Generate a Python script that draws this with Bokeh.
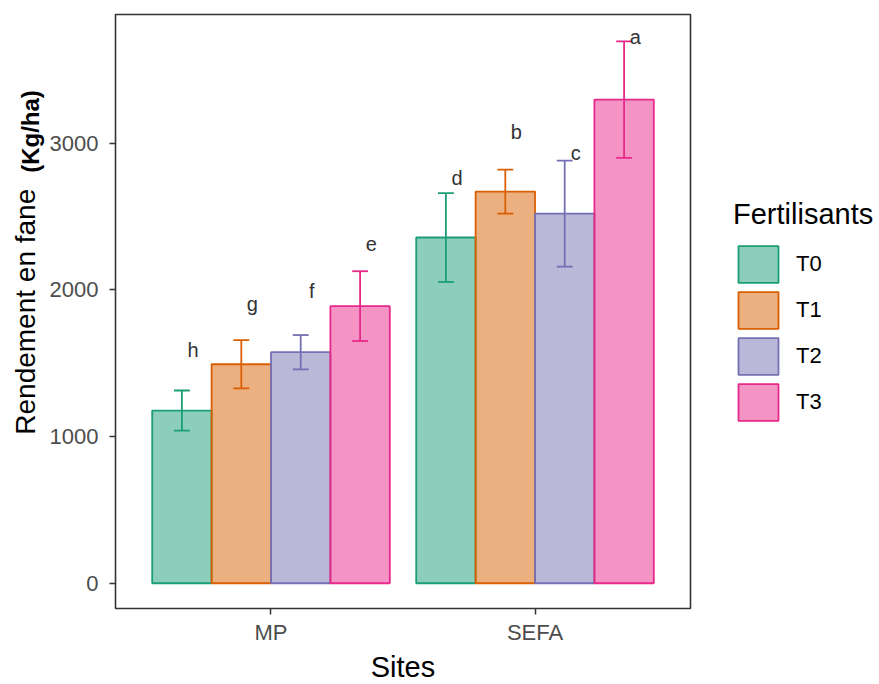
import math
from bokeh.plotting import figure
from bokeh.layouts import row
from bokeh.models import (ColumnDataSource, FactorRange, Range1d, Legend, LegendItem,
                          FixedTicker)
from bokeh.transform import dodge
from bokeh.core.properties import value
from bokeh.embed import file_html
from bokeh.resources import INLINE

# ---------------- data ----------------
sites = ["MP", "SEFA"]
treatments = ["T0", "T1", "T2", "T3"]

mean_T0 = [1177, 2357]
mean_T1 = [1493, 2670]
mean_T2 = [1575, 2520]
mean_T3 = [1889, 3297]

se_T0 = [137, 303]
se_T1 = [165, 150]
se_T2 = [117, 361]
se_T3 = [238, 397]

letters_T0 = ["h", "d"]
letters_T1 = ["g", "b"]
letters_T2 = ["f", "c"]
letters_T3 = ["e", "a"]

# vertical centre of each significance letter
letter_y_T0 = [1587, 2760]
letter_y_T1 = [1907, 3078]
letter_y_T2 = [1989, 2930]
letter_y_T3 = [2316, 3723]

y_ticks = [0, 1000, 2000, 3000]

y_title_main = "Rendement en fane"
y_title_unit = "(Kg/ha)"
x_title = "Sites"
legend_title = "Fertilisants"

means = [mean_T0, mean_T1, mean_T2, mean_T3]
ses = [se_T0, se_T1, se_T2, se_T3]
letters = [letters_T0, letters_T1, letters_T2, letters_T3]
letter_ys = [letter_y_T0, letter_y_T1, letter_y_T2, letter_y_T3]

# ---------------- style ----------------
line_colors = ["#1B9E77", "#D95F02", "#7570B3", "#E7298A"]
FONT = "Liberation Sans"
bar_w = 0.225
H = 682

# ---- narrow strip holding the y-axis title (normal + bold parts) ----
tf = figure(width=45, height=H, x_range=Range1d(0, 45), y_range=Range1d(0, H),
            min_border=0, x_axis_type=None, y_axis_type=None,
            output_backend="svg", toolbar_location=None)
tf.outline_line_color = None
tf.xgrid.visible = False
tf.ygrid.visible = False
tf.text(x=[25], y=[H - 343], text=[y_title_main], angle=math.pi / 2,
        text_align="center", text_baseline="middle",
        text_font=value(FONT), text_font_size="28px", text_color="black")
tf.text(x=[30], y=[H - 135], text=[y_title_unit], angle=math.pi / 2,
        text_align="center", text_baseline="middle",
        text_font=value(FONT), text_font_size="24px", text_font_style="bold",
        text_color="black")

# ---- main plot ----
p = figure(
    x_range=FactorRange(*sites, range_padding=0.089, range_padding_units="absolute"),
    y_range=Range1d(-172, 3877),
    frame_width=575, frame_height=594,
    min_border_left=70, min_border_right=188, min_border_top=14, min_border_bottom=74,
    output_backend="svg", toolbar_location=None,
)
p.background_fill_color = "white"
p.border_fill_color = "white"
p.xgrid.visible = False
p.ygrid.visible = False
p.outline_line_color = "#333333"
p.outline_line_width = 1.6
p.outline_line_alpha = 1.0

bar_renderers = []
sources = []
for i, t in enumerate(treatments):
    src = ColumnDataSource(dict(
        site=sites,
        mean=means[i],
        lower=[m - s for m, s in zip(means[i], ses[i])],
        upper=[m + s for m, s in zip(means[i], ses[i])],
        letter=letters[i],
        ly=letter_ys[i],
    ))
    sources.append(src)
    off = (i - 1.5) * bar_w
    r = p.vbar(x=dodge("site", off, range=p.x_range), top="mean", bottom=0, width=bar_w,
               source=src, fill_color=line_colors[i], fill_alpha=0.5,
               line_color=line_colors[i], line_width=1.8)
    bar_renderers.append(r)

for i, t in enumerate(treatments):
    src = sources[i]
    off = (i - 1.5) * bar_w
    col = line_colors[i]
    p.segment(x0=dodge("site", off, range=p.x_range), y0="lower",
              x1=dodge("site", off, range=p.x_range), y1="upper",
              source=src, line_color=col, line_width=1.8)
    for end in ["lower", "upper"]:
        p.segment(x0=dodge("site", off - 0.03, range=p.x_range), y0=end,
                  x1=dodge("site", off + 0.03, range=p.x_range), y1=end,
                  source=src, line_color=col, line_width=1.8)

for i, t in enumerate(treatments):
    off = (i - 1.5) * bar_w + 0.042
    p.text(x=dodge("site", off, range=p.x_range), y="ly", text="letter", source=sources[i],
           text_align="center", text_baseline="middle", text_font_size="20px",
           text_font=value(FONT), text_color="#333333")

# axes
for ax in [p.xaxis[0], p.yaxis[0]]:
    ax.axis_line_color = None
    ax.major_tick_line_color = "#333333"
    ax.major_tick_line_width = 1.5
    ax.major_tick_out = 6
    ax.major_tick_in = 0
    ax.minor_tick_line_color = None
    ax.major_label_text_color = "#4D4D4D"
    ax.major_label_text_font = FONT
    ax.major_label_text_font_size = "22px"

p.xaxis.major_label_standoff = 5
p.yaxis.major_label_standoff = 11
p.yaxis.ticker = FixedTicker(ticks=y_ticks)
p.xaxis.axis_label = x_title
p.xaxis.axis_label_text_font = FONT
p.xaxis.axis_label_text_font_size = "29px"
p.xaxis.axis_label_text_font_style = "normal"
p.xaxis.axis_label_text_color = "black"
p.xaxis.axis_label_standoff = 3

legend = Legend(
    items=[LegendItem(label=t, renderers=[bar_renderers[i]]) for i, t in enumerate(treatments)],
    title=legend_title, location=(43, 183),
    glyph_width=50, glyph_height=46, label_height=46, label_standoff=13, spacing=0,
    padding=0, margin=0, border_line_color=None, background_fill_alpha=0,
    title_text_font=FONT, title_text_font_size="29px", title_text_font_style="normal",
    title_text_color="black", title_standoff=10,
    label_text_font=FONT, label_text_font_size="22px", label_text_color="black",
)
p.add_layout(legend, "right")

open("out.html", "w").write(file_html(row(tf, p), INLINE, title="plot"))
